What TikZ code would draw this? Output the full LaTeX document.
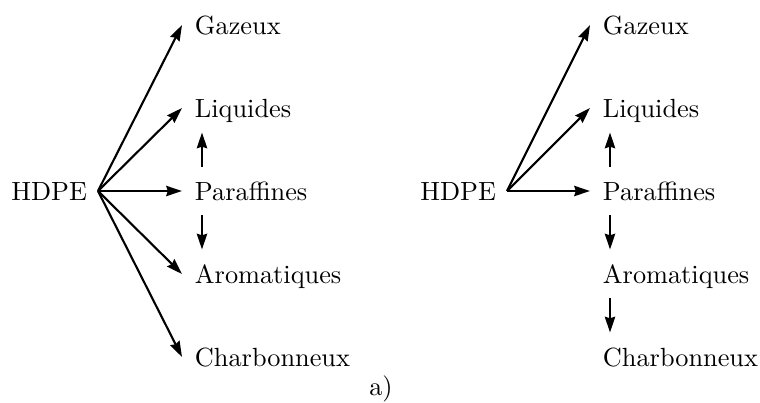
\documentclass[tikz,border=0pt]{standalone}
\usetikzlibrary{arrows.meta}
\begin{document}
\begin{tikzpicture}[x=0.3802pt,y=-0.3802pt,
  lbl/.style={inner xsep=3.33pt, inner ysep=0pt, outer sep=1.6pt, text height=6.9pt, text depth=0pt, minimum height=15.4pt},
  src/.style={lbl, outer sep=0.85pt},
  arr/.style={line width=0.8pt, -{Stealth[length=6pt,width=3.9pt,inset=0.6pt]}}]
\useasboundingbox (0,0) rectangle (760,402);
% left panel
\node[src, anchor=east] (h1) at (98,191) {HDPE};
\node[lbl, anchor=west] (g1) at (182,25) {Gazeux};
\node[lbl, anchor=west] (l1) at (182,108) {Liquides};
\node[lbl, anchor=west] (p1) at (182,191) {Paraffines};
\node[lbl, anchor=west] (a1) at (182,274) {Aromatiques};
\node[lbl, anchor=west] (c1) at (182,357) {Charbonneux};
\draw[arr] (h1.east) -- (g1.west);
\draw[arr] (h1.east) -- (l1.west);
\draw[arr] (h1.east) -- (p1.west);
\draw[arr] (h1.east) -- (a1.west);
\draw[arr] (h1.east) -- (c1.west);
\draw[arr] ([xshift=7.6pt]p1.north west) -- ([xshift=7.6pt]l1.south west);
\draw[arr] ([xshift=7.6pt]p1.south west) -- ([xshift=7.6pt]a1.north west);
% right panel
\node[src, anchor=east] (h2) at (507,191) {HDPE};
\node[lbl, anchor=west] (g2) at (590,25) {Gazeux};
\node[lbl, anchor=west] (l2) at (590,108) {Liquides};
\node[lbl, anchor=west] (p2) at (590,191) {Paraffines};
\node[lbl, anchor=west] (a2) at (590,274) {Aromatiques};
\node[lbl, anchor=west] (c2) at (590,357) {Charbonneux};
\draw[arr] (h2.east) -- (g2.west);
\draw[arr] (h2.east) -- (l2.west);
\draw[arr] (h2.east) -- (p2.west);
\draw[arr] ([xshift=7.6pt]p2.north west) -- ([xshift=7.6pt]l2.south west);
\draw[arr] ([xshift=7.6pt]p2.south west) -- ([xshift=7.6pt]a2.north west);
\draw[arr] ([xshift=7.6pt]a2.south west) -- ([xshift=7.6pt]c2.north west);
% caption
\node (cap) at (381,389) {a)};
\end{tikzpicture}
\end{document}
